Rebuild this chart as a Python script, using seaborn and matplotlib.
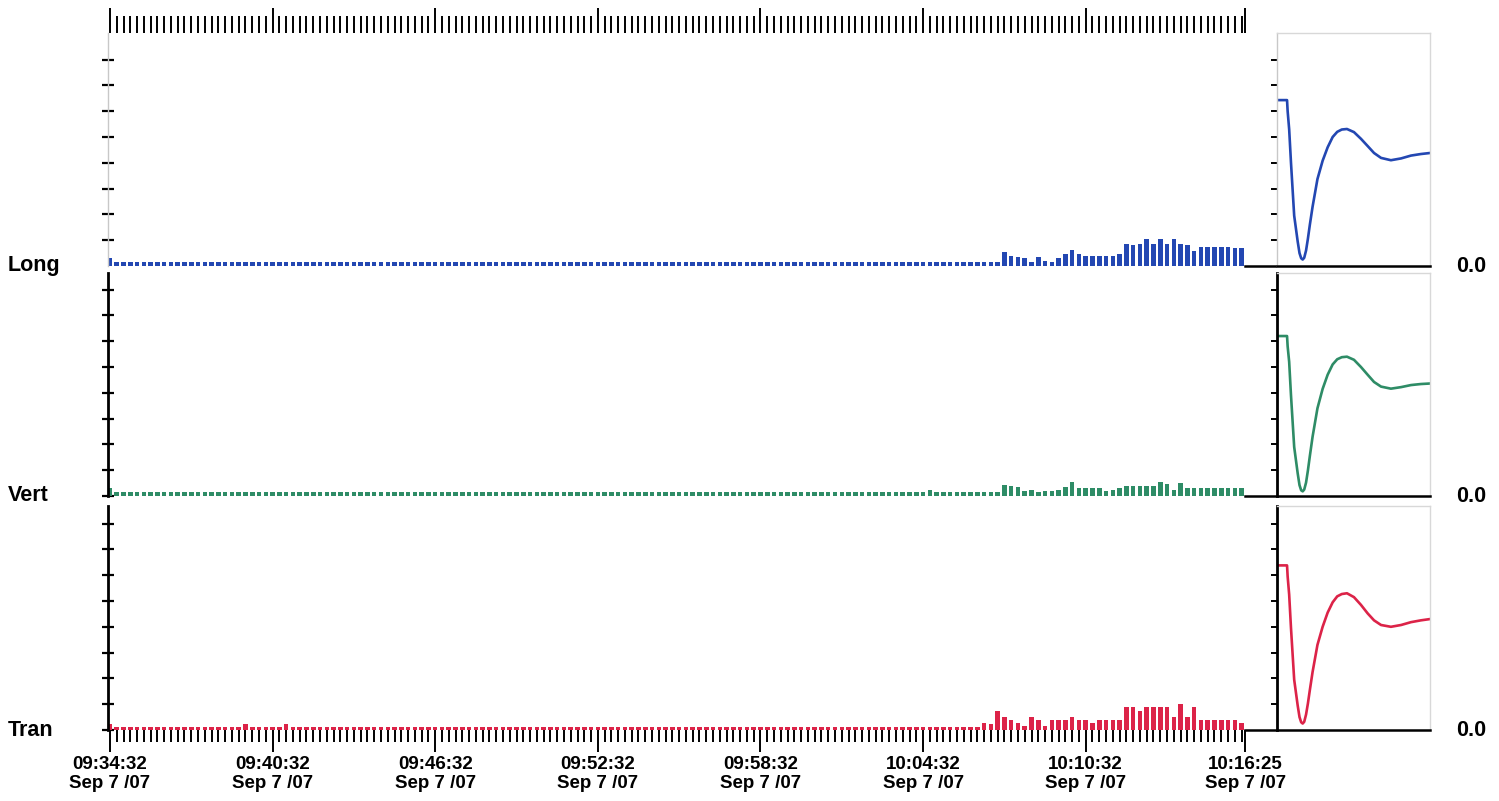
import numpy as np
import matplotlib.pyplot as plt
import seaborn as sns
from matplotlib.ticker import FixedLocator, FixedFormatter, NullFormatter

# --- data -------------------------------------------------------------
# 15 s bins starting 09:34:32 (seconds from start)
bin_sec = 15
n_bins = 168
t_sec = [bin_sec * i for i in range(n_bins)]

# last 39 bins (10:06:47 .. 10:16:17)
long_tail = [0.17, 0.17, 0.17, 0.55, 0.40, 0.33, 0.30, 0.17, 0.33, 0.20,
             0.17, 0.30, 0.45, 0.62, 0.45, 0.40, 0.40, 0.40, 0.40, 0.40,
             0.45, 0.85, 0.80, 0.85, 1.05, 0.85, 1.05, 0.85, 1.05, 0.85,
             0.80, 0.60, 0.75, 0.75, 0.75, 0.75, 0.75, 0.70, 0.70]
vert_tail = [0.15, 0.15, 0.15, 0.43, 0.40, 0.35, 0.20, 0.25, 0.15, 0.20,
             0.20, 0.25, 0.35, 0.55, 0.30, 0.30, 0.30, 0.30, 0.20, 0.25,
             0.30, 0.40, 0.40, 0.40, 0.40, 0.40, 0.55, 0.45, 0.25, 0.50,
             0.30, 0.30, 0.30, 0.30, 0.30, 0.30, 0.30, 0.30, 0.30]
tran_tail = [0.28, 0.22, 0.75, 0.50, 0.37, 0.27, 0.15, 0.50, 0.37, 0.15,
             0.37, 0.37, 0.37, 0.50, 0.40, 0.37, 0.27, 0.37, 0.37, 0.37,
             0.37, 0.88, 0.88, 0.75, 0.88, 0.88, 0.88, 0.88, 0.50, 1.00,
             0.50, 0.88, 0.37, 0.37, 0.37, 0.37, 0.37, 0.37, 0.27]

long_vals = [0.30] + [0.17] * 128 + long_tail
vert_vals = [0.30] + [0.15] * 120 + [0.25] + [0.15] * 7 + vert_tail
tran_vals = ([0.25] + [0.13] * 19 + [0.25] + [0.13] * 5 + [0.25]
             + [0.13] * 102 + tran_tail)

# response curves (right panels)
resp_x = [0.0, 0.06, 0.064, 0.074, 0.086, 0.107, 0.13, 0.142, 0.153, 0.163,
          0.173, 0.185, 0.197, 0.21, 0.228, 0.26, 0.294, 0.327, 0.36, 0.39,
          0.42, 0.454, 0.5, 0.546, 0.59, 0.632, 0.678, 0.743, 0.81, 0.875,
          0.94, 1.0]
long_resp = [6.43, 6.43, 6.0, 5.3, 4.0, 1.95, 0.95, 0.5, 0.3, 0.25,
             0.32, 0.6, 1.05, 1.6, 2.3, 3.37, 4.08, 4.6, 5.0, 5.2,
             5.29, 5.31, 5.19, 4.93, 4.65, 4.38, 4.19, 4.1, 4.17, 4.28,
             4.34, 4.38]
vert_resp = [6.2, 6.2, 5.8, 5.2, 3.9, 1.9, 0.88, 0.42, 0.22, 0.18,
             0.25, 0.52, 0.98, 1.55, 2.3, 3.4, 4.15, 4.7, 5.1, 5.3,
             5.38, 5.4, 5.28, 5.0, 4.7, 4.42, 4.24, 4.16, 4.22, 4.3,
             4.34, 4.36]
tran_resp = [6.38, 6.38, 5.95, 5.25, 3.95, 1.95, 0.95, 0.5, 0.3, 0.25,
             0.32, 0.6, 1.02, 1.55, 2.25, 3.3, 4.0, 4.55, 4.95, 5.18,
             5.27, 5.3, 5.15, 4.85, 4.52, 4.25, 4.07, 4.0, 4.07, 4.18,
             4.25, 4.3]

names = ["Long", "Vert", "Tran"]
colors = ["#2347b2", "#2e8c66", "#dc2348"]

major_sec = [0, 360, 720, 1080, 1440, 1800, 2160, 2513]
major_labels = ["09:34:32", "09:40:32", "09:46:32", "09:52:32",
                "09:58:32", "10:04:32", "10:10:32", "10:16:25"]
date_label = "Sep 7 /07"

# --- layout -----------------------------------------------------------
sns.set_theme(style="white")
plt.rcParams['font.family'] = ['Liberation Sans', 'DejaVu Sans']
plt.rcParams['text.color'] = 'black'

W, H = 1499, 801
fig = plt.figure(figsize=(W / 100, H / 100), dpi=100)


def frame(x0, y0, x1, y1):
    return [x0 / W, 1 - y1 / H, (x1 - x0) / W, (y1 - y0) / H]


rows = [(33, 266), (273, 496), (506, 730)]
unit_px = 25.8
series = [long_vals, vert_vals, tran_vals]
resps = [long_resp, vert_resp, tran_resp]
minor_sec = [s for s in range(0, 2514, bin_sec)]

for k, (y0, y1) in enumerate(rows):
    ymax = (y1 - y0) / unit_px
    ax = fig.add_axes(frame(107.7, y0, 1275, y1))
    sns.barplot(x=t_sec, y=series[k], native_scale=True, width=0.67,
                color=colors[k], saturation=1, errorbar=None,
                linewidth=0, ax=ax)
    ax.set_xlim(-5, 2579)
    ax.set_ylim(0, ymax)
    ax.set_xlabel("")
    ax.set_ylabel("")
    for s in ["top", "right"]:
        ax.spines[s].set_visible(False)
    ax.spines["bottom"].set_bounds(2513, 2579)
    ax.spines["bottom"].set_color("black")
    ax.spines["bottom"].set_linewidth(1.8)
    ax.spines["left"].set_color("#c8c8c8" if k == 0 else "black")
    ax.spines["left"].set_linewidth(1.0 if k == 0 else 2.0)

    ax.yaxis.set_major_locator(FixedLocator(list(range(0 if k else 1, 9))))
    ax.yaxis.set_major_formatter(NullFormatter())
    ax.tick_params(axis="y", left=True, direction="inout", length=8.5,
                   width=1.6, color="black")

    ax.xaxis.set_major_locator(FixedLocator(major_sec))
    ax.xaxis.set_minor_locator(FixedLocator(minor_sec))
    if k == 0:
        ax.xaxis.set_major_formatter(NullFormatter())
        ax.tick_params(axis="x", which="both", top=True, bottom=False,
                       labelbottom=False, labeltop=False, direction="out",
                       width=1.4, color="black")
        ax.tick_params(axis="x", which="major", length=18)
        ax.tick_params(axis="x", which="minor", length=12.5)
    elif k == 2:
        ax.xaxis.set_major_formatter(FixedFormatter(
            [f"{lab}\n{date_label}" for lab in major_labels]))
        ax.tick_params(axis="x", which="both", bottom=True, top=False,
                       direction="out", width=1.4, color="black",
                       labelcolor="black")
        ax.tick_params(axis="x", which="major", length=16, pad=3)
        ax.tick_params(axis="x", which="minor", length=8.5)
        for lab in ax.get_xticklabels():
            lab.set_fontsize(13.5)
            lab.set_fontweight("bold")
            lab.set_linespacing(1.15)
    else:
        ax.tick_params(axis="x", which="both", bottom=False, top=False,
                       labelbottom=False)

    # right panel: response curve
    axr = fig.add_axes(frame(1277, y0, 1430, y1))
    sns.lineplot(x=resp_x, y=resps[k], color=colors[k], linewidth=1.9,
                 ax=axr)
    axr.set_xlim(-0.006, 1.0)
    axr.set_ylim(0, ymax)
    axr.set_xticks([])
    axr.yaxis.set_major_locator(FixedLocator(list(range(1, 9))))
    axr.yaxis.set_major_formatter(NullFormatter())
    axr.tick_params(axis="y", left=True, direction="out", length=4,
                    width=1.4, color="black", pad=1)
    for s in ["top", "right"]:
        axr.spines[s].set_color("#d8d8d8")
        axr.spines[s].set_linewidth(1.0)
    axr.spines["bottom"].set_color("black")
    axr.spines["bottom"].set_linewidth(1.8)
    axr.spines["left"].set_color("#c8c8c8" if k == 0 else "black")
    axr.spines["left"].set_linewidth(1.0 if k == 0 else 2.0)

    fig.text(8 / W, 1 - y1 / H, names[k], ha="left", va="center",
             fontsize=15.5, fontweight="bold", color="black")
    fig.text(1471 / W, 1 - (y1 + 1) / H, "0.0", ha="center", va="center",
             fontsize=15.5, fontweight="bold", color="black")

fig.savefig("out.png", dpi=100)
